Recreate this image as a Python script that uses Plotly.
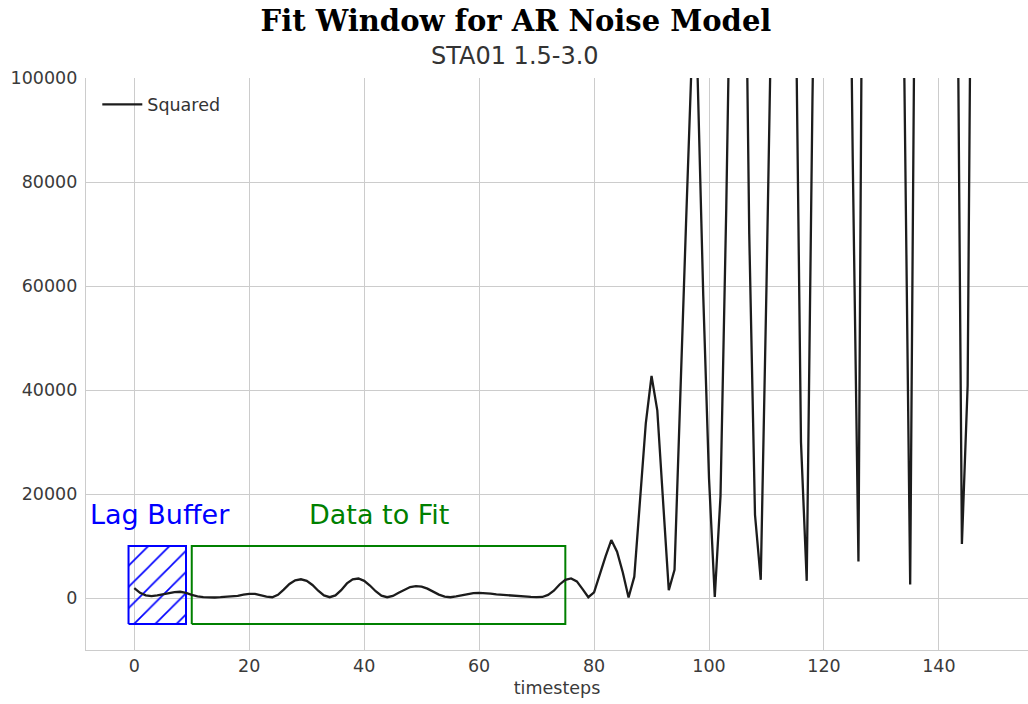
import plotly.graph_objects as go

# ---- data ----
timesteps = list(range(0, 147))
squared = [
    1900, 1000, 500, 350, 500, 700, 950, 1150, 1200, 1000,
    600, 300, 150, 100, 100, 150, 200, 250, 400, 650,
    800, 800, 550, 250, 150, 600, 1600, 2700, 3400, 3600,
    3300, 2500, 1400, 500, 150, 500, 1500, 2800, 3600, 3750,
    3300, 2400, 1300, 450, 150, 400, 1000, 1600, 2100, 2300,
    2200, 1800, 1200, 650, 250, 150, 300, 550, 800, 950,
    1000, 950, 850, 700, 600, 500, 400, 300, 250, 200,
    150, 200, 600, 1400, 2600, 3500, 3750, 3200, 1700, 150,
    1100, 4700, 8000, 11150, 8900, 4900, 100, 4100, 18000, 33600,
    42700, 36100, 18700, 1500, 5400, 41000, 72000, 104000, 101000, 58000,
    23000, 200, 19600, 75000, 140000, 210000, 160000, 70000, 16000, 3500,
    60000, 155000, 230000, 250000, 220000, 128000, 30000, 3300, 96000, 170000,
    260000, 300000, 280000, 240000, 180000, 85000, 7000, 190000, 300000, 350000,
    360000, 320000, 250000, 170000, 99000, 2600, 152000, 300000, 400000, 420000,
    400000, 330000, 240000, 155000, 10400, 40900, 190000,
]

lag_buffer_x = [-1, 9]
fit_window_x = [10, 75]
box_y = [-5000, 10000]

x_ticks = [0, 20, 40, 60, 80, 100, 120, 140]
y_ticks = [0, 20000, 40000, 60000, 80000, 100000]

title_text = "Fit Window for AR Noise Model"
subtitle_text = "STA01 1.5-3.0"
lag_label = "Lag Buffer"
fit_label = "Data to Fit"
series_name = "Squared"
x_title = "timesteps"

# ---- figure ----
W, H = 1028, 704
ML, MR, MT, MB = 86, 0, 78, 54
font_fam = "DejaVu Sans"
tick_col = "#3a3a3a"
grid_col = "#cccccc"


def rect(xs, ys):
    return [xs[0], xs[1], xs[1], xs[0], xs[0]], [ys[0], ys[0], ys[1], ys[1], ys[0]]


fig = go.Figure()

bx, by = rect(lag_buffer_x, box_y)
fig.add_trace(go.Scatter(
    x=bx, y=by, mode="lines", fill="toself",
    line=dict(color="#0000ff", width=2),
    fillcolor="rgba(0,0,0,0)",
    fillpattern=dict(shape="/", fgcolor="#0000ff", fgopacity=1,
                     bgcolor="rgba(0,0,0,0)", size=15, solidity=0.11),
    showlegend=False, hoverinfo="skip",
))

gx, gy = rect(fit_window_x, box_y)
fig.add_trace(go.Scatter(
    x=gx, y=gy, mode="lines",
    line=dict(color="#008000", width=2),
    showlegend=False, hoverinfo="skip",
))

fig.add_trace(go.Scatter(
    x=timesteps, y=squared, mode="lines", name=series_name,
    line=dict(color="#1c1c1c", width=2.3),
))

fig.add_annotation(x=-8, y=16000, xref="x", yref="y", text=lag_label,
                   showarrow=False, xanchor="left", yanchor="middle",
                   font=dict(family=font_fam, size=27, color="#0000ff"))
fig.add_annotation(x=30, y=16000, xref="x", yref="y", text=fit_label,
                   showarrow=False, xanchor="left", yanchor="middle",
                   font=dict(family=font_fam, size=27, color="#008000"))

plot_w = W - ML - MR
plot_h = H - MT - MB
fig.add_annotation(x=(515 - ML) / plot_w, y=(H - MB - 56) / plot_h,
                   xref="paper", yref="paper", text=subtitle_text,
                   showarrow=False, xanchor="center", yanchor="middle",
                   font=dict(family=font_fam, size=24, color="#333333"))

fig.update_layout(
    width=W, height=H,
    margin=dict(l=ML, r=MR, t=MT, b=MB, pad=0, autoexpand=False),
    paper_bgcolor="white", plot_bgcolor="white",
    title=dict(text="<b>" + title_text + "</b>", x=516 / W, xref="container",
               y=1 - 21 / H, yref="container", xanchor="center", yanchor="middle",
               font=dict(family="DejaVu Serif", size=29, color="black")),
    showlegend=True,
    legend=dict(x=0.012, y=0.985, xanchor="left", yanchor="top",
                bgcolor="rgba(0,0,0,0)", itemwidth=40,
                font=dict(family=font_fam, size=17.5, color="#333333")),
    xaxis=dict(range=[-8.4, 155.5], tickvals=x_ticks, showgrid=True,
               gridcolor=grid_col, gridwidth=1.2, zeroline=False,
               showline=True, linecolor=grid_col, linewidth=1.2, automargin=False,
               ticks="", tickfont=dict(family=font_fam, size=17.5, color=tick_col),
               title=dict(text=x_title, standoff=6,
                          font=dict(family=font_fam, size=17.5, color=tick_col))),
    yaxis=dict(range=[-10000, 100000], tickvals=y_ticks, tickformat="d",
               showgrid=True, gridcolor=grid_col, gridwidth=1.2, zeroline=False,
               showline=True, linecolor=grid_col, linewidth=1.2, automargin=False,
               ticks="", ticklabelstandoff=4,
               tickfont=dict(family=font_fam, size=17.5, color=tick_col)),
)

fig.write_html(
    "out.html",
    config={"displayModeBar": False},
    post_script="document.body.style.margin='0';document.body.style.overflow='hidden';",
)
